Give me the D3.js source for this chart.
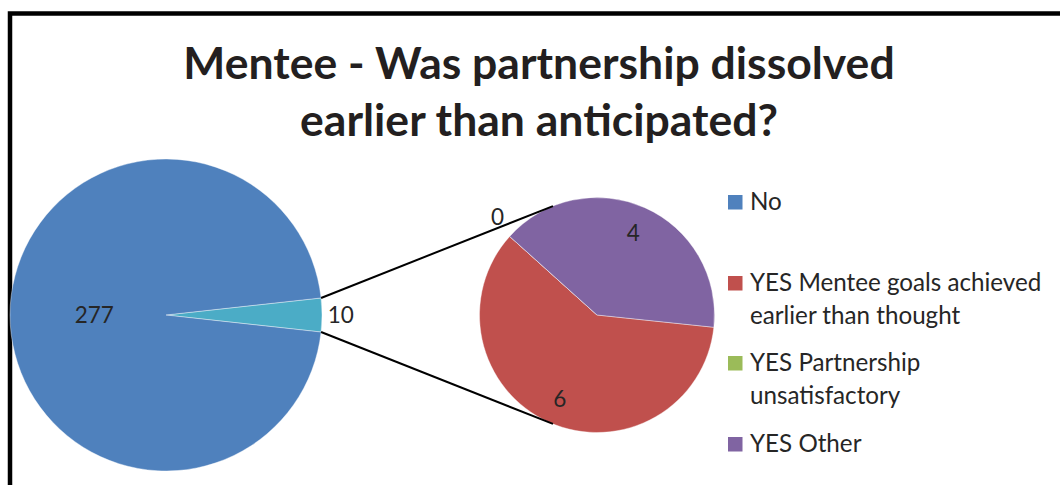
<!DOCTYPE html>
<html>
<head>
<meta charset="utf-8">
<script src="https://cdn.jsdelivr.net/npm/d3@7"></script>
<style>
  html, body { margin: 0; padding: 0; background: #fff; }
  svg { display: block; }
  text { font-family: Lato, "Open Sans", sans-serif; fill: #262626; }
</style>
</head>
<body>
<svg id="chart" width="1060" height="485"></svg>
<script>
// Main pie: "No" answers plus the combined "YES" group that is broken out.
const mainLabels = ["YES (all reasons)", "No"];
const mainValues = [10, 277];

// Secondary pie: breakdown of the "YES" group.
const subLabels = ["YES Mentee goals achieved earlier than thought", "YES Partnership unsatisfactory", "YES Other"];
const subValues = [6, 0, 4];

// Legend entries (wrapped lines) and series colours.
const legendLines = [
  ["No"],
  ["YES Mentee goals achieved", "earlier than thought"],
  ["YES Partnership", "unsatisfactory"],
  ["YES Other"]
];
const legendColors = ["#4F81BD", "#C0504D", "#9BBB59", "#8064A2"];
const mainColors = ["#4BACC6", "#4F81BD"];
const subColors = ["#C0504D", "#9BBB59", "#8064A2"];

const titleLines = ["Mentee - Was partnership dissolved", "earlier than anticipated?"];

const svg = d3.select("#chart");
const deg = Math.PI / 180;

// Chart frame (only left and top edges fall inside the view)
svg.append("rect")
  .attr("x", 10).attr("y", 13.5)
  .attr("width", 1100).attr("height", 520)
  .attr("fill", "none").attr("stroke", "#000").attr("stroke-width", 4.5);

// Title
svg.append("g").selectAll("text")
  .data(titleLines).join("text")
  .attr("x", 539)
  .attr("y", (d, i) => 79 + i * 56.5)
  .attr("text-anchor", "middle")
  .style("font-size", "44.5px")
  .style("font-weight", "bold")
  .style("fill", "#231F20")
  .text(d => d);

// ---- Main pie ----
const mainC = { x: 166, y: 315 }, mainR = 156;
const mainTotal = d3.sum(mainValues);
const mainSpan = mainValues[0] / mainTotal * 2 * Math.PI;
const mainPie = d3.pie().sort(null)
  .startAngle(Math.PI / 2 - mainSpan / 2)
  .endAngle(Math.PI / 2 - mainSpan / 2 + 2 * Math.PI);
const mainArcs = mainPie(mainValues);
const mainArc = d3.arc().innerRadius(0).outerRadius(mainR);

const gMain = svg.append("g").attr("transform", `translate(${mainC.x},${mainC.y})`);
gMain.selectAll("path").data(mainArcs).join("path")
  .attr("d", mainArc)
  .attr("fill", (d, i) => mainColors[i])
  .attr("stroke", "#fff").attr("stroke-width", 0.4);

// label radius factors relative to the pie radius
const mainLabelR = [1.12, 0.46];
gMain.selectAll("text").data(mainArcs).join("text")
  .attr("x", (d, i) => Math.sin((d.startAngle + d.endAngle) / 2) * mainR * mainLabelR[i])
  .attr("y", (d, i) => -Math.cos((d.startAngle + d.endAngle) / 2) * mainR * mainLabelR[i])
  .attr("dy", "0.35em")
  .attr("text-anchor", "middle")
  .style("font-size", "22.5px")
  .text(d => d.value);

// ---- Secondary pie ----
const subC = { x: 597, y: 315 }, subR = 117.5;
const subStart = 96 * deg;
const subPie = d3.pie().sort(null).startAngle(subStart).endAngle(subStart + 2 * Math.PI);
const subArcs = subPie(subValues);
const subArc = d3.arc().innerRadius(0).outerRadius(subR);

const gSub = svg.append("g").attr("transform", `translate(${subC.x},${subC.y})`);
gSub.selectAll("path").data(subArcs).join("path")
  .attr("d", subArc)
  .attr("fill", (d, i) => subColors[i])
  .attr("stroke", "#fff").attr("stroke-width", 0.4);

// zero-value slice label sits a little past its boundary
const subLabelR = [0.78, 1.19, 0.76];
const subLabelShift = [0, 2.7 * deg, 0];
gSub.selectAll("text").data(subArcs).join("text")
  .attr("x", (d, i) => Math.sin((d.startAngle + d.endAngle) / 2 + subLabelShift[i]) * subR * subLabelR[i])
  .attr("y", (d, i) => -Math.cos((d.startAngle + d.endAngle) / 2 + subLabelShift[i]) * subR * subLabelR[i])
  .attr("dy", "0.35em")
  .attr("text-anchor", "middle")
  .style("font-size", "22.5px")
  .text(d => d.value);

// ---- Connector lines from the broken-out slice to the secondary pie ----
const connAngle = 158 * deg; // angle on the secondary pie, measured from its top
const connectors = [-1, 1].map(s => {
  const a0 = Math.PI / 2 + s * mainSpan / 2;
  const a1 = Math.PI / 2 + s * (connAngle - Math.PI / 2);
  return [
    [mainC.x + Math.sin(a0) * mainR, mainC.y - Math.cos(a0) * mainR],
    [subC.x + Math.sin(a1) * subR * -1, subC.y - Math.cos(a1) * subR]
  ];
});
svg.append("g").selectAll("line").data(connectors).join("line")
  .attr("x1", d => d[0][0]).attr("y1", d => d[0][1])
  .attr("x2", d => d[1][0]).attr("y2", d => d[1][1])
  .attr("stroke", "#000").attr("stroke-width", 2);

// ---- Legend ----
const legendTops = [195, 276, 356, 437];
const legend = svg.append("g").selectAll("g").data(legendLines).join("g")
  .attr("transform", (d, i) => `translate(728,${legendTops[i]})`);
legend.append("rect")
  .attr("width", 14.5).attr("height", 14.5)
  .attr("fill", (d, i) => legendColors[i]);
legend.append("text")
  .attr("x", 22)
  .style("font-size", "24.2px")
  .selectAll("tspan").data(d => d).join("tspan")
  .attr("x", 22)
  .attr("y", (d, i) => 15 + i * 32.5)
  .text(d => d);
</script>
</body>
</html>
